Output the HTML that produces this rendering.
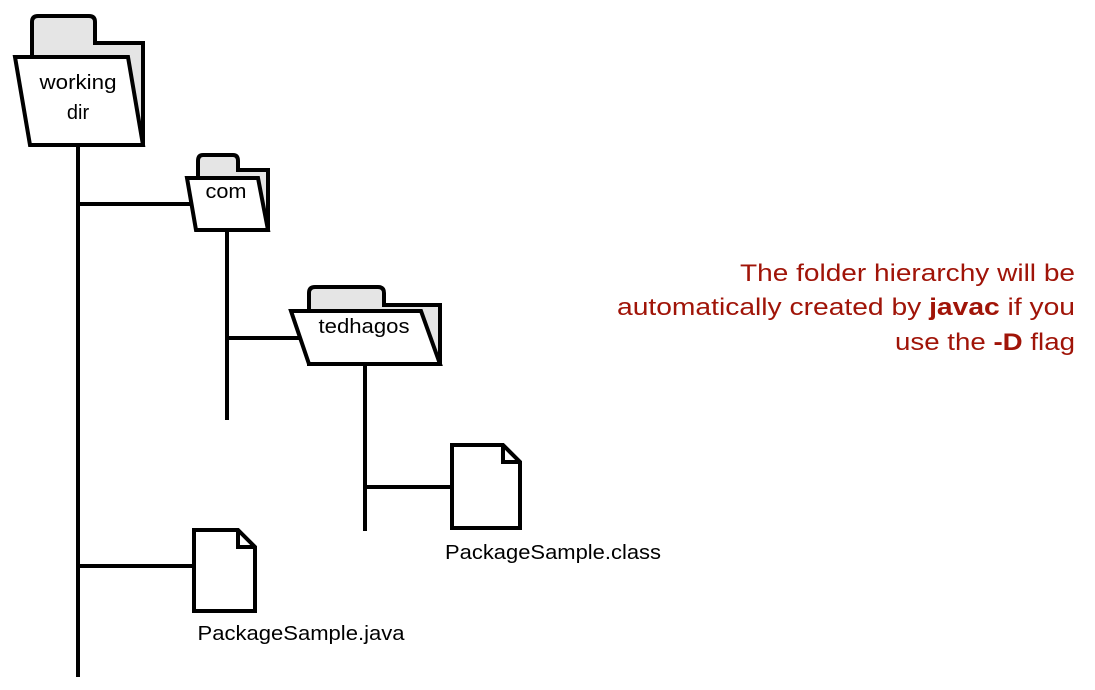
<!DOCTYPE html>
<html><head><meta charset="utf-8"><style>
body{margin:0;background:#fff;width:1095px;height:690px;overflow:hidden}
svg{display:block}
text{font-family:"Liberation Sans",Arial,sans-serif}
</style></head><body>
<svg width="1095" height="690" viewBox="0 0 1095 690" xmlns="http://www.w3.org/2000/svg">
<g stroke="#000" stroke-width="4" fill="none" stroke-linejoin="miter">
<line x1="78" y1="145" x2="78" y2="677"/>
<line x1="78" y1="204" x2="192" y2="204"/>
<line x1="78" y1="566" x2="195" y2="566"/>
<line x1="227" y1="230" x2="227" y2="420"/>
<line x1="227" y1="338" x2="302" y2="338"/>
<line x1="365" y1="364" x2="365" y2="531"/>
<line x1="365" y1="487" x2="453" y2="487"/>
</g>
<g stroke="#000" stroke-width="4" stroke-linejoin="miter">
<path d="M32 43 V22 Q32 16 38 16 H89 Q95 16 95 22 V43 H143 V145 H32 Z" fill="#e5e5e5"/>
<path d="M15 57 H128 L143 145 H30 Z" fill="#fff"/>
<path d="M198 176 V161 Q198 155 203 155 H233 Q238 155 238 161 V170 H268 V230 H198 Z" fill="#e5e5e5"/>
<path d="M187 178 H258 L268 230 H196 Z" fill="#fff"/>
<path d="M309 311 V293 Q309 287 315 287 H378 Q384 287 384 293 V305 H440 V364 H309 Z" fill="#e5e5e5"/>
<path d="M291 311 H421 L440 364 H309 Z" fill="#fff"/>
<path d="M452 445 H503 L520 462 V528 H452 Z" fill="#fff"/>
<path d="M503 445 V462 H520" fill="none"/>
<path d="M194 530 H238 L255 547 V611 H194 Z" fill="#fff"/>
<path d="M238 530 V547 H255" fill="none"/>
</g>
<g font-size="20" fill="#000" text-anchor="middle">
<text x="78" y="89" textLength="77" lengthAdjust="spacingAndGlyphs">working</text>
<text x="78" y="119">dir</text>
<text x="226" y="198" textLength="41" lengthAdjust="spacingAndGlyphs">com</text>
<text x="364" y="333" textLength="91" lengthAdjust="spacingAndGlyphs">tedhagos</text>
<text x="553" y="559" textLength="216" lengthAdjust="spacingAndGlyphs">PackageSample.class</text>
<text x="301" y="640" textLength="207" lengthAdjust="spacingAndGlyphs">PackageSample.java</text>
</g>
<g font-size="24" fill="#a01408" xml:space="preserve">
<text x="740" y="281" textLength="335" lengthAdjust="spacingAndGlyphs">The  folder hierarchy will be</text>
<text x="617" y="315" textLength="458" lengthAdjust="spacingAndGlyphs">automatically created  by <tspan font-weight="bold">javac</tspan> if you</text>
<text x="895" y="350" textLength="180" lengthAdjust="spacingAndGlyphs">use the <tspan font-weight="bold">-D</tspan> flag</text>
</g>
</svg>
</body></html>
